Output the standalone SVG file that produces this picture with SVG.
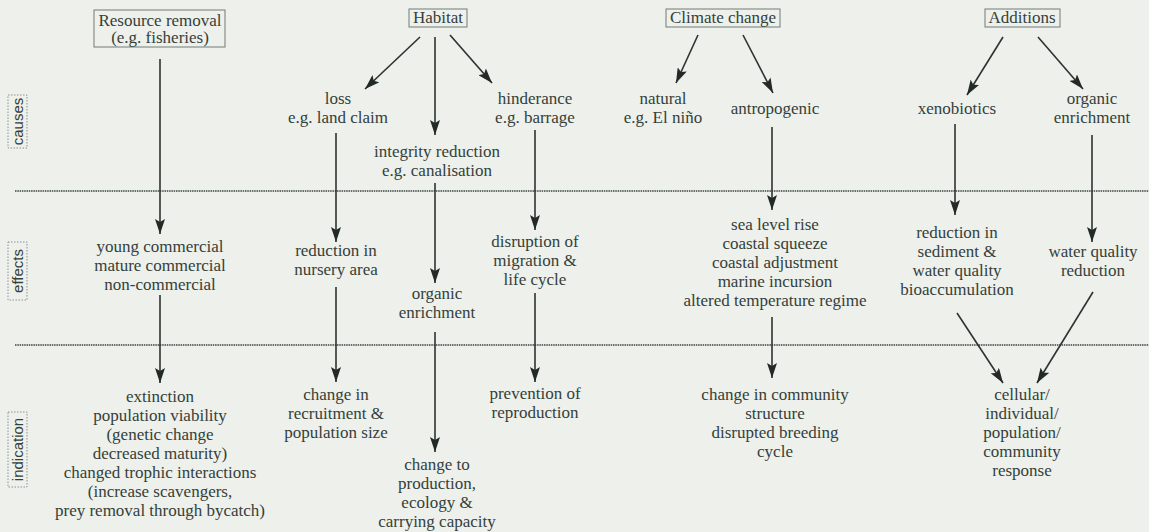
<svg xmlns="http://www.w3.org/2000/svg" width="1149" height="532" viewBox="0 0 1149 532">
<style>
  text { font-family: "Liberation Serif", "Times New Roman", serif; font-size: 17px; fill: #34403a; text-anchor: middle; }
  .side { font-family: "Liberation Sans", Arial, sans-serif; font-size: 15px; }
  .box { fill: none; stroke: #707c76; stroke-width: 1; }
  .sidebox { fill: none; stroke: #8a948f; stroke-width: 1; stroke-dasharray: 1.5 1.5; }
  .sep { stroke: #66706b; stroke-width: 2; stroke-dasharray: 1.5 0.8; }
  .conn line { stroke: #2c3430; stroke-width: 1.6; marker-end: url(#arr); }
</style>
<defs>
  <marker id="arr" markerUnits="userSpaceOnUse" markerWidth="16" markerHeight="10" refX="15" refY="5" orient="auto">
    <path d="M0,0 L15,5 L0,10 L3,5 z" fill="#232a26"/>
  </marker>
</defs>
<rect width="1149" height="532" fill="#eef0ec"/>

<g id="separators">
  <line class="sep" x1="15" y1="191" x2="1149" y2="191"/>
  <line class="sep" x1="15" y1="345" x2="1149" y2="345"/>
</g>

<g id="side-causes">
  <rect class="sidebox" x="8" y="95" width="19" height="53"/>
  <text class="side" transform="translate(22.5,121.5) rotate(-90)">causes</text>
</g>
<g id="side-effects">
  <rect class="sidebox" x="8" y="242" width="19" height="58"/>
  <text class="side" transform="translate(22.5,271) rotate(-90)">effects</text>
</g>
<g id="side-indication">
  <rect class="sidebox" x="8" y="412" width="19" height="75"/>
  <text class="side" transform="translate(22.5,449.5) rotate(-90)">indication</text>
</g>

<g class="conn" id="connectors">
  <line x1="160" y1="59" x2="160" y2="234"/>
  <line x1="160" y1="295" x2="160" y2="383"/>
  <line x1="420" y1="37" x2="365" y2="89"/>
  <line x1="435" y1="37" x2="435" y2="135"/>
  <line x1="450" y1="35" x2="492" y2="83"/>
  <line x1="336" y1="133" x2="336" y2="242"/>
  <line x1="336" y1="287" x2="336" y2="382"/>
  <line x1="435" y1="183" x2="435" y2="283"/>
  <line x1="435" y1="332" x2="435" y2="452"/>
  <line x1="535" y1="130" x2="535" y2="230"/>
  <line x1="535" y1="293" x2="535" y2="382"/>
  <line x1="698" y1="35" x2="676" y2="83"/>
  <line x1="743" y1="35" x2="773" y2="93"/>
  <line x1="772" y1="127" x2="772" y2="210"/>
  <line x1="772" y1="317" x2="772" y2="378"/>
  <line x1="1003" y1="37" x2="967" y2="95"/>
  <line x1="1038" y1="37" x2="1083" y2="89"/>
  <line x1="955" y1="124" x2="955" y2="215"/>
  <line x1="1092" y1="135" x2="1092" y2="242"/>
  <line x1="957" y1="313" x2="1003" y2="383"/>
  <line x1="1093" y1="292" x2="1037" y2="383"/>
</g>

<g id="resource-removal">
  <rect class="box" x="94" y="10" width="131" height="37"/>
  <text x="160" y="26">Resource removal</text>
  <text x="160" y="43">(e.g. fisheries)</text>
</g>
<g id="habitat">
  <rect class="box" x="409" y="9" width="58" height="18"/>
  <text x="438" y="23">Habitat</text>
</g>
<g id="climate-change">
  <rect class="box" x="666" y="9" width="114" height="18"/>
  <text x="723" y="23">Climate change</text>
</g>
<g id="additions">
  <rect class="box" x="985" y="9" width="75" height="18"/>
  <text x="1022" y="23">Additions</text>
</g>

<g id="loss">
  <text x="338" y="104">loss</text>
  <text x="338" y="123">e.g. land claim</text>
</g>
<g id="integrity-reduction">
  <text x="437" y="157">integrity reduction</text>
  <text x="437" y="176">e.g. canalisation</text>
</g>
<g id="hinderance">
  <text x="535" y="104">hinderance</text>
  <text x="535" y="123">e.g. barrage</text>
</g>
<g id="natural">
  <text x="663" y="104">natural</text>
  <text x="663" y="123">e.g. El niño</text>
</g>
<g id="antropogenic">
  <text x="775" y="114">antropogenic</text>
</g>
<g id="xenobiotics">
  <text x="957" y="114">xenobiotics</text>
</g>
<g id="organic-enrichment-cause">
  <text x="1092" y="104">organic</text>
  <text x="1092" y="123">enrichment</text>
</g>

<g id="commercial">
  <text x="160" y="252">young commercial</text>
  <text x="160" y="271">mature commercial</text>
  <text x="160" y="290">non-commercial</text>
</g>
<g id="nursery">
  <text x="336" y="256">reduction in</text>
  <text x="336" y="275">nursery area</text>
</g>
<g id="organic-enrichment-effect">
  <text x="437" y="299">organic</text>
  <text x="437" y="318">enrichment</text>
</g>
<g id="migration">
  <text x="535" y="247">disruption of</text>
  <text x="535" y="266">migration &amp;</text>
  <text x="535" y="285">life cycle</text>
</g>
<g id="sea-level">
  <text x="775" y="230">sea level rise</text>
  <text x="775" y="249">coastal squeeze</text>
  <text x="775" y="268">coastal adjustment</text>
  <text x="775" y="287">marine incursion</text>
  <text x="775" y="306">altered temperature regime</text>
</g>
<g id="sediment">
  <text x="957" y="238">reduction in</text>
  <text x="957" y="257">sediment &amp;</text>
  <text x="957" y="276">water quality</text>
  <text x="957" y="295">bioaccumulation</text>
</g>
<g id="water-quality">
  <text x="1093" y="257">water quality</text>
  <text x="1093" y="276">reduction</text>
</g>

<g id="extinction">
  <text x="160" y="402">extinction</text>
  <text x="160" y="421">population viability</text>
  <text x="160" y="440">(genetic change</text>
  <text x="160" y="459">decreased maturity)</text>
  <text x="160" y="478">changed trophic interactions</text>
  <text x="160" y="497">(increase scavengers,</text>
  <text x="160" y="516">prey removal through bycatch)</text>
</g>
<g id="recruitment">
  <text x="336" y="400">change in</text>
  <text x="336" y="419">recruitment &amp;</text>
  <text x="336" y="438">population size</text>
</g>
<g id="production">
  <text x="437" y="470">change to</text>
  <text x="437" y="489">production,</text>
  <text x="437" y="508">ecology &amp;</text>
  <text x="437" y="527">carrying capacity</text>
</g>
<g id="reproduction">
  <text x="535" y="399">prevention of</text>
  <text x="535" y="418">reproduction</text>
</g>
<g id="community">
  <text x="775" y="400">change in community</text>
  <text x="775" y="419">structure</text>
  <text x="775" y="438">disrupted breeding</text>
  <text x="775" y="457">cycle</text>
</g>
<g id="response">
  <text x="1022" y="400">cellular/</text>
  <text x="1022" y="419">individual/</text>
  <text x="1022" y="438">population/</text>
  <text x="1022" y="457">community</text>
  <text x="1022" y="476">response</text>
</g>
</svg>
